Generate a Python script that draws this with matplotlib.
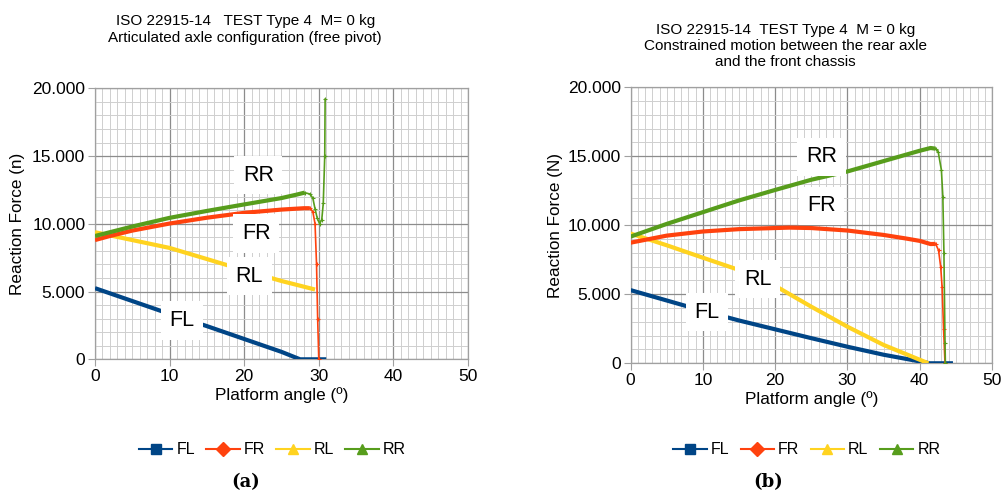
import matplotlib
matplotlib.use("Agg")
import matplotlib.pyplot as plt
from matplotlib.ticker import MultipleLocator, FuncFormatter
from matplotlib.lines import Line2D

plt.rcParams['font.family'] = ['Liberation Sans', 'DejaVu Sans']

# ---------------- data: panel (a) ----------------
a_fl_x = [0, 5, 10, 15, 20, 25, 27.5, 29, 31]
a_fl_y = [5250, 4300, 3350, 2450, 1500, 550, 0, 0, 0]

a_fr_x = [0, 2, 5, 10, 15, 20, 25, 28, 28.8]
a_fr_y = [8800, 9100, 9500, 10020, 10450, 10810, 11050, 11150, 11150]
a_fr_drop_x = [28.8, 29.2, 29.5, 29.7, 29.85, 30.0]
a_fr_drop_y = [11150, 10900, 10000, 7000, 3000, 0]

a_rl_x = [0, 5, 10, 15, 20, 25, 29.5]
a_rl_y = [9380, 8800, 8220, 7400, 6570, 5780, 5150]

a_rr_x = [0, 5, 10, 15, 20, 25, 27, 28.1]
a_rr_y = [9100, 9800, 10440, 10950, 11430, 11900, 12150, 12300]
a_rr_drop_x = [28.1, 28.8, 29.2, 29.5, 29.8, 30.1, 30.4, 30.6, 30.8, 30.85]
a_rr_drop_y = [12300, 12200, 11900, 11100, 10400, 10020, 10300, 11500, 15000, 19200]

# ---------------- data: panel (b) ----------------
b_fl_x = [0, 5, 10, 15, 20, 25, 30, 35, 38, 41.4, 44.6]
b_fl_y = [5300, 4550, 3800, 3100, 2460, 1820, 1200, 620, 330, 0, 0]

b_fr_x = [0, 5, 10, 15, 20, 22, 25, 30, 35, 38, 40, 41.5, 42.2]
b_fr_y = [8740, 9250, 9550, 9720, 9800, 9830, 9800, 9620, 9300, 9050, 8870, 8640, 8650]
b_fr_drop_x = [42.2, 42.6, 42.9, 43.1, 43.3, 43.5]
b_fr_drop_y = [8650, 8200, 7000, 5500, 2500, 0]

b_rl_x = [0, 5, 10, 15, 20.6, 25, 30, 35, 41.2]
b_rl_y = [9400, 8550, 7650, 6760, 5430, 4100, 2650, 1330, 0]

b_rr_x = [0, 5, 10, 15, 20, 25, 30, 35, 40, 41.5, 42.2]
b_rr_y = [9180, 10100, 10950, 11800, 12560, 13300, 13900, 14650, 15400, 15600, 15550]
b_rr_drop_x = [42.2, 42.55, 43.0, 43.2, 43.35, 43.5, 43.55]
b_rr_drop_y = [15550, 15340, 14000, 12070, 7970, 1500, 0]

series_names = ['FL', 'FR', 'RL', 'RR']
colors = {'FL': '#004586', 'FR': '#ff420e', 'RL': '#ffd320', 'RR': '#579d1c'}
markers = {'FL': 's', 'FR': 'D', 'RL': '^', 'RR': '^'}

x_ticks = [0, 10, 20, 30, 40, 50]
y_ticks = [0, 5000, 10000, 15000, 20000]

title_a = "ISO 22915-14   TEST Type 4  M= 0 kg\nArticulated axle configuration (free pivot)"
title_b = "ISO 22915-14  TEST Type 4  M = 0 kg\nConstrained motion between the rear axle\nand the front chassis"
ylabel_a = "Reaction Force (n)"
ylabel_b = "Reaction Force (N)"
xlabel = "Platform angle (º)"

labels_a = {'RR': (21.9, 13580), 'FR': (21.6, 9280), 'RL': (20.7, 6120), 'FL': (11.7, 2860)}
labels_b = {'RR': (26.4, 14970), 'FR': (26.4, 11400), 'RL': (17.6, 6090), 'FL': (10.6, 3700)}

fig = plt.figure(figsize=(10.01, 4.90), dpi=100)
axA = fig.add_axes([0.0949, 0.2667, 0.3726, 0.5531])
axB = fig.add_axes([0.6300, 0.2586, 0.3610, 0.5633])

def fmt(v, pos):
    v = int(round(v))
    if v == 0:
        return "0"
    return f"{v:,}".replace(",", ".")

def style(ax):
    ax.set_xlim(0, 50)
    ax.set_ylim(0, 20000)
    ax.set_xticks(x_ticks)
    ax.set_yticks(y_ticks)
    ax.xaxis.set_minor_locator(MultipleLocator(1))
    ax.yaxis.set_minor_locator(MultipleLocator(1000))
    ax.yaxis.set_major_formatter(FuncFormatter(fmt))
    ax.grid(which='major', color='#8c8c8c', linewidth=0.9)
    ax.grid(which='minor', color='#cfcfcf', linewidth=0.7)
    ax.set_axisbelow(True)
    for s in ax.spines.values():
        s.set_color('#a0a0a0')
        s.set_linewidth(0.9)
    ax.tick_params(which='major', length=5, color='#a0a0a0', labelsize=12.5, pad=2)
    ax.tick_params(which='minor', length=0)
    ax.set_xlabel(xlabel, fontsize=12.3, labelpad=2)

def plot_series(ax, xs, ys, name):
    ax.plot(xs, ys, color=colors[name], lw=3.0, solid_capstyle='butt', zorder=3)

def plot_drop(ax, xs, ys, name):
    ax.plot(xs, ys, color=colors[name], lw=1.2, marker='+', ms=2.5, mew=0.8, zorder=3)

style(axA)
style(axB)

plot_series(axA, a_fl_x, a_fl_y, 'FL')
plot_series(axA, a_rl_x, a_rl_y, 'RL')
plot_series(axA, a_fr_x, a_fr_y, 'FR')
plot_drop(axA, a_fr_drop_x, a_fr_drop_y, 'FR')
plot_series(axA, a_rr_x, a_rr_y, 'RR')
plot_drop(axA, a_rr_drop_x, a_rr_drop_y, 'RR')

plot_series(axB, b_fl_x, b_fl_y, 'FL')
plot_series(axB, b_rl_x, b_rl_y, 'RL')
plot_series(axB, b_fr_x, b_fr_y, 'FR')
plot_drop(axB, b_fr_drop_x, b_fr_drop_y, 'FR')
plot_series(axB, b_rr_x, b_rr_y, 'RR')
plot_drop(axB, b_rr_drop_x, b_rr_drop_y, 'RR')

for ax, labs in ((axA, labels_a), (axB, labels_b)):
    for name, (x, y) in labs.items():
        ax.text(x, y, name, fontsize=15.5, ha='center', va='center', zorder=5,
                bbox=dict(facecolor='white', edgecolor='none', boxstyle='square,pad=0.4'))

axA.set_ylabel(ylabel_a, fontsize=12.3, labelpad=5)
axB.set_ylabel(ylabel_b, fontsize=12.3, labelpad=3)

fig.text(0.245, 0.940, title_a, ha='center', va='center', fontsize=11, linespacing=1.2)
fig.text(0.785, 0.906, title_b, ha='center', va='center', fontsize=11, linespacing=1.2)

handles = [Line2D([0], [0], color=colors[n], lw=1.5, marker=markers[n], ms=7,
                  markerfacecolor=colors[n], markeredgecolor=colors[n]) for n in series_names]
leg_kw = dict(loc='center', ncol=4, frameon=False, fontsize=11.5, handlelength=2.1,
              columnspacing=0.7, handletextpad=0.25, borderpad=0)
fig.legend(handles, series_names, bbox_to_anchor=(0.272, 0.082), **leg_kw)
fig.legend(handles, series_names, bbox_to_anchor=(0.806, 0.082), **leg_kw)

fig.text(0.245, 0.017, "(a)", ha='center', va='center', fontsize=13, fontweight='bold', family='DejaVu Serif')
fig.text(0.767, 0.017, "(b)", ha='center', va='center', fontsize=13, fontweight='bold', family='DejaVu Serif')

fig.savefig("out.png", dpi=100)
